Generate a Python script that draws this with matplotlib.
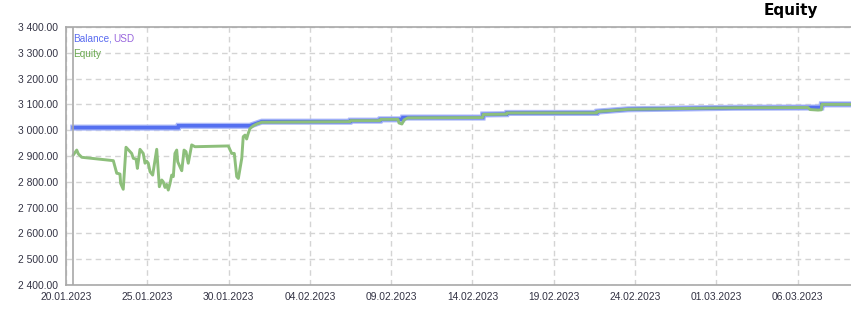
import numpy as np
import pandas as pd
import matplotlib
matplotlib.use('Agg')
import matplotlib.pyplot as plt
import matplotlib.dates as mdates
from matplotlib.ticker import FuncFormatter

# days after 20.01.2023 00:00, values in USD
eq_days = [0.45, 0.66, 0.76, 0.97, 2.91, 3.12, 3.22, 3.32, 3.36, 3.52, 3.69, 4.04, 4.14, 4.31,
           4.39, 4.55, 4.75, 4.86, 4.96, 5.06, 5.17, 5.33, 5.41, 5.58, 5.74, 5.89, 5.98, 6.09,
           6.19, 6.29, 6.40, 6.50, 6.60, 6.70, 6.81, 6.87, 7.01, 7.12, 7.26, 7.38, 7.52, 7.73,
           7.93, 9.98, 10.19, 10.35, 10.50, 10.60, 10.81, 10.90, 11.01, 11.11, 11.21, 11.32,
           11.52, 11.73, 12.04, 17.47, 17.49, 19.31, 19.33, 20.42, 20.48, 20.66, 20.79, 21.03,
           25.63, 25.65, 27.10, 27.12, 32.64, 32.66, 34.56, 41.14, 45.63, 45.76, 46.25, 46.46,
           46.48, 48.28]
eq_vals = [2904, 2923, 2908, 2895, 2882, 2833, 2832, 2830, 2794, 2771, 2934, 2910, 2891, 2888,
           2852, 2926, 2910, 2872, 2880, 2872, 2839, 2826, 2858, 2926, 2781, 2807, 2800, 2778,
           2790, 2768, 2794, 2826, 2820, 2910, 2923, 2878, 2858, 2843, 2923, 2917, 2872, 2943,
           2936, 2939, 2910, 2910, 2820, 2813, 2891, 2975, 2981, 2966, 2988, 3007,
           3017, 3024, 3031, 3033, 3037, 3037, 3042, 3042, 3028, 3024, 3040, 3048,
           3049, 3061, 3062, 3067, 3067, 3072, 3081, 3087, 3088, 3080, 3078, 3079,
           3100, 3100]

bal_days = [0.45, 6.90, 6.92, 11.30, 12.04, 17.47, 17.49, 19.31, 19.33, 20.70, 20.72, 25.63,
            25.65, 27.10, 27.12, 32.64, 32.66, 34.56, 41.14, 46.46, 46.48, 48.28]
bal_vals = [3010, 3010, 3017, 3017, 3033, 3033, 3037, 3037, 3042, 3042, 3049, 3049,
            3061, 3062, 3067, 3067, 3072, 3081, 3087, 3088, 3100, 3100]

start = pd.Timestamp('2023-01-20')
eq_t = start + pd.to_timedelta(eq_days, unit='D')
bal_t = start + pd.to_timedelta(bal_days, unit='D')
tick_dates = pd.date_range('2023-01-20', periods=10, freq='5D')

plt.rcParams['font.family'] = ['Liberation Sans', 'DejaVu Sans']

fig = plt.figure(figsize=(8.51, 3.09), dpi=100)
ax = fig.add_axes([66/851, 24/309, 785/851, 258/309])

ax.plot(bal_t, bal_vals, color='#aab8f8', lw=4.4, solid_joinstyle='miter')
ax.plot(bal_t, bal_vals, color='#5570f0', lw=2.6, solid_joinstyle='miter')
ax.plot(eq_t, eq_vals, color='#8dbf7b', lw=2.1)

ax.axvline(eq_t[0], color='#a8a8a8', lw=1.2)

ax.set_ylim(2400, 3400)
ax.set_yticks(np.arange(2400, 3401, 100))
ax.yaxis.set_major_formatter(FuncFormatter(lambda v, p: f"{v:,.2f}".replace(',', ' ')))
ax.set_xlim(start, start + pd.Timedelta(days=48.28))
ax.set_xticks(tick_dates)
ax.xaxis.set_major_formatter(mdates.DateFormatter('%d.%m.%Y'))

ax.grid(True, color='#d4d4d4', lw=1, linestyle=(0, (4, 3)))
ax.set_axisbelow(True)
ax.tick_params(length=0, labelsize=7.4, colors='#333344', pad=6)
ax.tick_params(axis='x', pad=5)
for s in ['left', 'bottom', 'top']:
    ax.spines[s].set_color('#a8a8a8')
    ax.spines[s].set_linewidth(1.2)
ax.spines['right'].set_visible(False)

ax.text(0.009, 0.955, 'Balance,', transform=ax.transAxes, color='#5a6cf0', fontsize=7.2, va='center')
ax.text(0.060, 0.955, 'USD', transform=ax.transAxes, color='#9966dd', fontsize=7.2, va='center')
ax.text(0.009, 0.897, 'Equity', transform=ax.transAxes, color='#6aa84f', fontsize=7.2, va='center')

fig.text(791/851, 1 - 11/309, 'Equity', fontsize=11, fontweight='bold', ha='center', va='center',
         color='black', family='DejaVu Sans')

fig.savefig('out.png', dpi=100)
